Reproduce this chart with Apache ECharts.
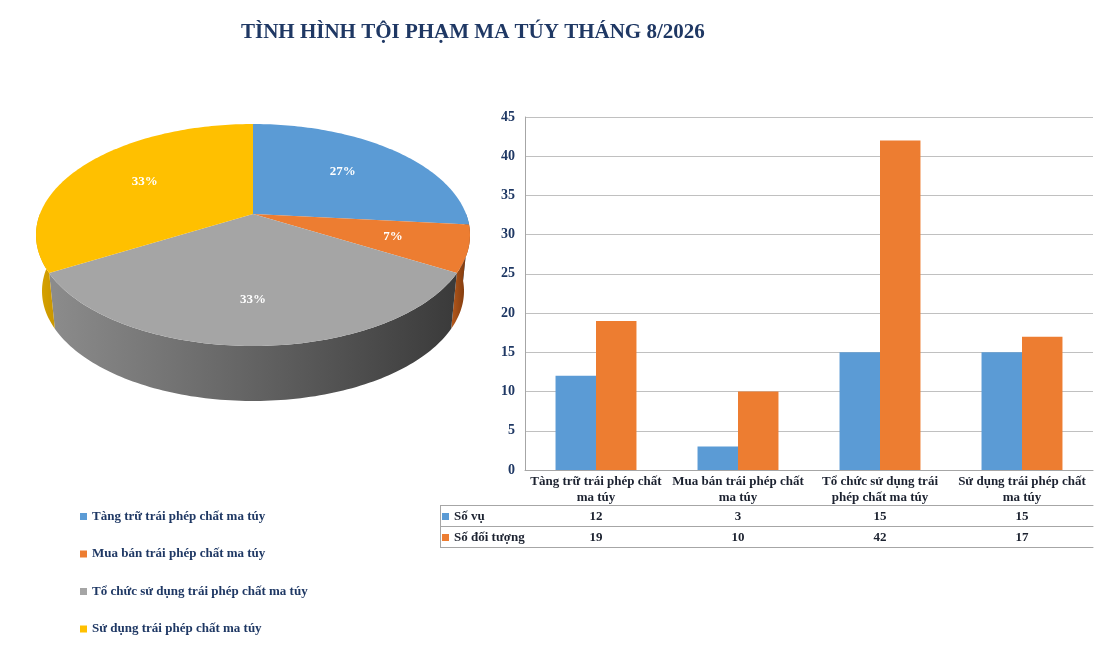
<!DOCTYPE html>
<html>
<head>
<meta charset="utf-8">
<script src="https://cdn.jsdelivr.net/npm/echarts@6/dist/echarts.min.js"></script>
<style>
  html, body { margin: 0; padding: 0; background: #fff; }
  #main { width: 1103px; height: 646px; }
</style>
</head>
<body>
<div id="main"></div>
<script>
// du lieu
var categories = ['Tàng trữ trái phép chất ma túy', 'Mua bán trái phép chất ma túy', 'Tổ chức sử dụng trái phép chất ma túy', 'Sử dụng trái phép chất ma túy'];
var caseCounts = [12, 3, 15, 15];
var suspectCounts = [19, 10, 42, 17];
var seriesNames = ['Số vụ', 'Số đối tượng'];
var yTicks = [0, 45, 5]; // min, max, interval

var serif = '"Liberation Serif", "Times New Roman", serif';
var navy = '#1f3864';
var ink = '#1c2230';
var topColors = ['#5b9bd5', '#ed7d31', '#a5a5a5', '#ffc000'];
var wallColors = [['#4a84bb', '#33669a'], ['#b75a1d', '#6e3008'], ['#8c8c8c', '#3a3a3a'], ['#dba600', '#c99600']];

// hinh hoc banh 3D
var P = { ax: 253, ay: 214, cx: 253, cy: 235, rx: 217, ry: 111, bcy: 291, brx: 211, bry: 110, warp: 0.2 };
var total = caseCounts.reduce(function (a, b) { return a + b; }, 0);

// phoi canh: goc phia truoc bi keo dan
function w(a) { return a - P.warp * Math.sin(a); }
function topPt(a) { a = w(a); return [P.cx + P.rx * Math.sin(a), P.cy - P.ry * Math.cos(a)]; }
function botPt(a) { a = w(a); return [P.cx + P.brx * Math.sin(a), P.bcy - P.bry * Math.cos(a)]; }
function arc(fn, a0, a1) {
    var pts = [], n = Math.max(2, Math.ceil((a1 - a0) / 0.02));
    for (var k = 0; k <= n; k++) pts.push(fn(a0 + (a1 - a0) * k / n));
    return pts;
}

// xuong dong theo so ky tu (giong Excel)
function wrap(text, maxLen) {
    var lines = [], cur = '';
    text.split(' ').forEach(function (word) {
        if (cur && (cur + ' ' + word).length > maxLen) { lines.push(cur); cur = word; }
        else cur = cur ? cur + ' ' + word : word;
    });
    lines.push(cur);
    return lines.join('\n');
}

function renderSlice(params, api) {
    var i = params.seriesIndex;
    var start = api.value(0), val = api.value(1);
    var a0 = start / total * 2 * Math.PI, a1 = (start + val) / total * 2 * Math.PI;
    var children = [];

    // mat ben (chi phan phia truoc)
    var s = Math.max(a0, Math.PI / 2), e = Math.min(a1, Math.PI * 1.5);
    if (s < e) {
        var wall = arc(topPt, s, e).concat(arc(botPt, s, e).reverse());
        children.push({
            type: 'polygon', z2: 0,
            shape: { points: wall },
            style: { fill: new echarts.graphic.LinearGradient(0, 0, 1, 0, [
                { offset: 0, color: wallColors[i][0] }, { offset: 1, color: wallColors[i][1] }]) }
        });
    }
    // mat tren
    children.push({
        type: 'polygon', z2: 10,
        shape: { points: [[P.ax, P.ay]].concat(arc(topPt, a0, a1)) },
        style: { fill: topColors[i] }
    });
    // nhan %
    var mid = topPt((a0 + a1) / 2);
    children.push({
        type: 'text', z2: 20,
        style: {
            text: Math.round(val / total * 100) + '%',
            x: P.ax + 0.65 * (mid[0] - P.ax),
            y: P.ay + 0.65 * (mid[1] - P.ay),
            fill: '#fff', font: 'bold 13px ' + serif,
            align: 'center', verticalAlign: 'middle'
        }
    });
    return { type: 'group', children: children };
}

var pieSeries = [];
var acc = 0;
categories.forEach(function (name, i) {
    pieSeries.push({
        type: 'custom',
        name: name,
        coordinateSystem: 'none',
        silent: true,
        itemStyle: { color: topColors[i] },
        renderItem: renderSlice,
        data: [[acc, caseCounts[i]]]
    });
    acc += caseCounts[i];
});

var myChart = echarts.init(document.getElementById('main'));

var option = {
    animation: false,
    title: {
        text: 'TÌNH HÌNH TỘI PHẠM MA TÚY THÁNG 8/2026',
        left: 236, top: 17,
        textStyle: { fontFamily: serif, fontSize: 21, fontWeight: 'bold', color: navy }
    },
    legend: [{
        data: categories,
        orient: 'vertical',
        left: 75, top: 505,
        icon: 'rect', itemWidth: 7, itemHeight: 7, itemGap: 24.5,
        textStyle: { fontFamily: serif, fontSize: 13, fontWeight: 'bold', color: navy }
    }, {
        data: seriesNames,
        orient: 'vertical',
        left: 437, top: 505,
        icon: 'rect', itemWidth: 7, itemHeight: 7, itemGap: 8,
        textStyle: { fontFamily: serif, fontSize: 13, fontWeight: 'bold', color: ink }
    }],
    grid: { left: 525, right: 10, top: 117, bottom: 176 },
    xAxis: [{
        type: 'category',
        data: categories,
        axisLine: { lineStyle: { color: '#a6a6a6' } },
        axisTick: { length: 77, lineStyle: { color: '#a6a6a6' } },
        axisLabel: {
            interval: 0, margin: 4, lineHeight: 16,
            formatter: function (v) { return wrap(v, 23); },
            fontFamily: serif, fontSize: 13, fontWeight: 'bold', color: ink
        }
    }, {
        type: 'category', position: 'bottom', offset: 35,
        data: caseCounts.map(String),
        axisLine: { lineStyle: { color: '#a6a6a6' } },
        axisTick: { show: false },
        axisLabel: { margin: 5, fontFamily: serif, fontSize: 13, fontWeight: 'bold', color: ink }
    }, {
        type: 'category', position: 'bottom', offset: 56,
        data: suspectCounts.map(String),
        axisLine: { lineStyle: { color: '#a6a6a6' } },
        axisTick: { show: false },
        axisLabel: { margin: 5, fontFamily: serif, fontSize: 13, fontWeight: 'bold', color: ink }
    }, {
        type: 'category', position: 'bottom', offset: 77,
        data: categories,
        axisLine: { lineStyle: { color: '#a6a6a6' } },
        axisTick: { show: false },
        axisLabel: { show: false }
    }],
    yAxis: {
        type: 'value',
        min: yTicks[0], max: yTicks[1], interval: yTicks[2],
        axisLine: { show: true, lineStyle: { color: '#a6a6a6' } },
        splitLine: { lineStyle: { color: '#c0c0c0' } },
        axisLabel: { margin: 10, fontFamily: serif, fontSize: 14, fontWeight: 'bold', color: navy }
    },
    graphic: [
        // khung cot tieu de bang
        { type: 'line', shape: { x1: 440, y1: 505.5, x2: 525, y2: 505.5 }, style: { stroke: '#a6a6a6' } },
        { type: 'line', shape: { x1: 440, y1: 526.5, x2: 525, y2: 526.5 }, style: { stroke: '#a6a6a6' } },
        { type: 'line', shape: { x1: 440, y1: 547.5, x2: 525, y2: 547.5 }, style: { stroke: '#a6a6a6' } },
        { type: 'line', shape: { x1: 440.5, y1: 505, x2: 440.5, y2: 548 }, style: { stroke: '#a6a6a6' } }
    ],
    series: pieSeries.concat([{
        type: 'bar',
        name: seriesNames[0],
        data: caseCounts,
        barGap: 0, barCategoryGap: '43%',
        itemStyle: { color: '#5b9bd5' }
    }, {
        type: 'bar',
        name: seriesNames[1],
        data: suspectCounts,
        itemStyle: { color: '#ed7d31' }
    }])
};

myChart.setOption(option);
</script>
</body>
</html>
